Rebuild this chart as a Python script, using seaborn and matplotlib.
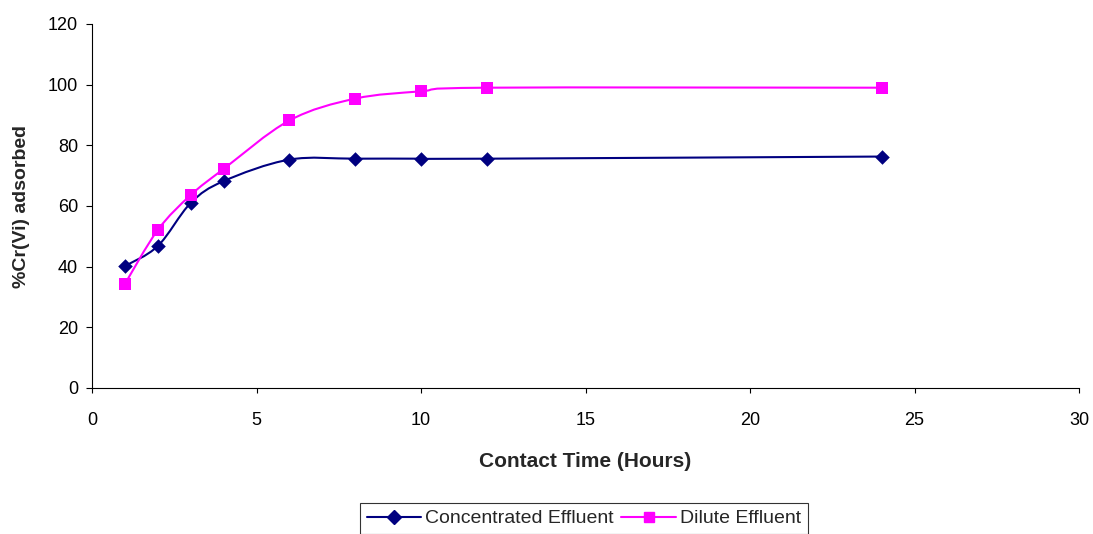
import numpy as np
import pandas as pd
import matplotlib
matplotlib.use("Agg")
import matplotlib.pyplot as plt
import seaborn as sns
from matplotlib.path import Path
from matplotlib.patches import PathPatch
from matplotlib.lines import Line2D

time_hours = [1, 2, 3, 4, 6, 8, 10, 12, 24]
concentrated = [40.2, 46.8, 61.0, 68.2, 75.3, 75.6, 75.6, 75.6, 76.3]
dilute = [34.3, 52.1, 63.6, 72.2, 88.2, 95.4, 97.8, 99.0, 99.0]
series_names = ["Concentrated Effluent", "Dilute Effluent"]
colors = ["#000080", "#FF00FF"]
markers = ["D", "s"]

sns.set_theme(style="ticks")
plt.rcParams["font.family"] = ["Liberation Sans", "DejaVu Sans"]

fig = plt.figure(figsize=(10.93, 5.34), dpi=100)
ax = fig.add_axes([92/1093, 1-388/534, (1079-92)/1093, (388-24)/534])


def smooth_path(xs, ys):
    pts = np.column_stack([xs, ys]).astype(float)
    n = len(pts)
    verts = [pts[0]]
    codes = [Path.MOVETO]
    for i in range(n - 1):
        p0 = pts[i - 1] if i > 0 else pts[i]
        p1 = pts[i]
        p2 = pts[i + 1]
        p3 = pts[i + 2] if i + 2 < n else pts[i + 1]
        c1 = p1 + (p2 - p0) / 6.0
        c2 = p2 - (p3 - p1) / 6.0
        verts += [c1, c2, p2]
        codes += [Path.CURVE4] * 3
    return Path(verts, codes)


handles = []
for name, vals, c, m in zip(series_names, [concentrated, dilute], colors, markers):
    df = pd.DataFrame({"t": time_hours, "v": vals})
    patch = PathPatch(smooth_path(df["t"], df["v"]), facecolor="none",
                      edgecolor=c, lw=1.5, zorder=2)
    ax.add_patch(patch)
    sns.scatterplot(data=df, x="t", y="v", marker=m, color=c, s=65 if m == "s" else 55,
                    edgecolor=c, linewidth=0, ax=ax, zorder=3, legend=False)
    handles.append(Line2D([0], [0], color=c, lw=1.5, marker=m,
                          markersize=7.5 if m == "s" else 7, markeredgecolor=c))

ax.set_xlim(0, 30)
ax.set_ylim(0, 120)
ax.set_xticks(range(0, 31, 5))
ax.set_yticks(range(0, 121, 20))
ax.tick_params(axis="both", labelsize=13, width=0.8, colors="black", direction="out")
ax.tick_params(axis="x", length=3.5, pad=14)
ax.tick_params(axis="y", length=4, pad=6)
for s in ["top", "right"]:
    ax.spines[s].set_visible(False)
for s in ["left", "bottom"]:
    ax.spines[s].set_color("black")
    ax.spines[s].set_linewidth(0.8)

ax.set_xlabel("Contact Time (Hours)", fontsize=15, fontweight="bold", labelpad=16)
ax.set_ylabel("%Cr(Vi) adsorbed", fontsize=14, fontweight="bold", labelpad=13)

leg = fig.legend(handles, series_names, loc="upper center", bbox_to_anchor=(0.534, 1-503/534),
                 ncol=2, frameon=True, fancybox=False, fontsize=14, handlelength=2.8,
                 columnspacing=0.4, handletextpad=0.2, borderpad=0.35, borderaxespad=0)
leg.get_frame().set_edgecolor("black")
leg.get_frame().set_linewidth(0.8)

fig.savefig("out.png", dpi=100)
